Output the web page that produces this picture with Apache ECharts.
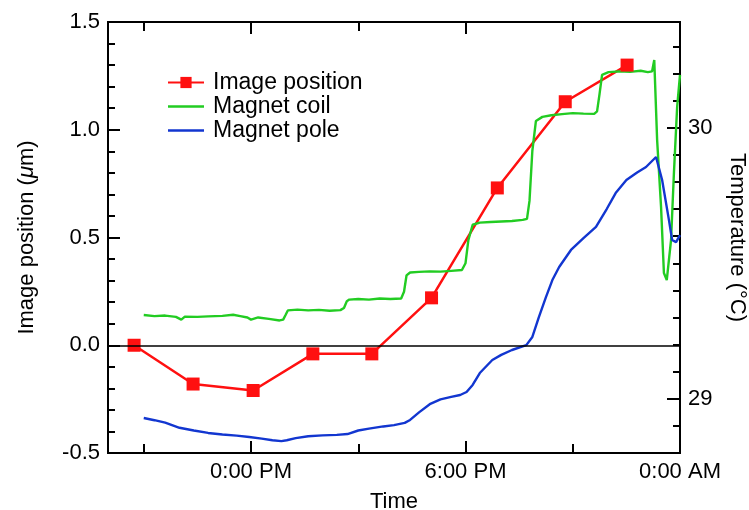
<!DOCTYPE html>
<html>
<head>
<meta charset="utf-8">
<script src="https://cdn.jsdelivr.net/npm/echarts@6/dist/echarts.min.js"></script>
<style>
  html, body { margin: 0; padding: 0; background: #fff; }
  #chart { width: 749px; height: 510px; }
</style>
</head>
<body>
<div id="chart"></div>
<script>
// hours relative to noon
const imageHours = [-3.27, -1.62, 0.06, 1.73, 3.38, 5.05, 6.89, 8.79, 10.52]
const imagePos = [0.0, -0.18, -0.21, -0.04, -0.04, 0.22, 0.73, 1.13, 1.30]

const coilHours = [-3.0, -2.7, -2.4, -2.1, -1.95, -1.85, -1.5, -1.2, -0.8, -0.5, -0.3, -0.1, 0.0, 0.2, 0.5, 0.8, 0.9, 0.97, 1.03, 1.3, 1.6, 1.9, 2.2, 2.5, 2.6, 2.68, 2.75, 3.0, 3.3, 3.6, 3.9, 4.2, 4.28, 4.35, 4.45, 4.7, 5.0, 5.3, 5.6, 5.9, 6.0, 6.08, 6.2, 6.4, 6.7, 7.0, 7.3, 7.6, 7.72, 7.79, 7.87, 7.97, 8.15, 8.4, 8.7, 9.0, 9.3, 9.6, 9.68, 9.75, 9.82, 10.0, 10.3, 10.6, 10.9, 11.1, 11.22, 11.28, 11.31, 11.36, 11.47, 11.55, 11.63, 11.68, 11.75, 11.83, 11.92, 12.0]
const coilTemp = [29.309, 29.305, 29.307, 29.302, 29.292, 29.303, 29.302, 29.304, 29.306, 29.310, 29.305, 29.300, 29.292, 29.300, 29.295, 29.289, 29.292, 29.310, 29.326, 29.329, 29.326, 29.328, 29.325, 29.327, 29.335, 29.360, 29.366, 29.368, 29.366, 29.370, 29.368, 29.370, 29.395, 29.455, 29.466, 29.468, 29.470, 29.469, 29.472, 29.475, 29.500, 29.585, 29.642, 29.650, 29.652, 29.654, 29.656, 29.660, 29.664, 29.730, 29.915, 30.025, 30.040, 30.046, 30.050, 30.054, 30.052, 30.051, 30.060, 30.125, 30.195, 30.205, 30.208, 30.206, 30.210, 30.205, 30.208, 30.250, 30.245, 29.955, 29.708, 29.464, 29.438, 29.445, 29.586, 29.833, 30.076, 30.195]

const poleHours = [-3.0, -2.7, -2.4, -2.0, -1.6, -1.2, -0.8, -0.4, -0.05, 0.3, 0.6, 0.85, 1.0, 1.25, 1.6, 2.0, 2.4, 2.7, 3.0, 3.3, 3.7, 4.0, 4.3, 4.45, 4.7, 5.0, 5.3, 5.6, 5.85, 6.03, 6.2, 6.4, 6.75, 7.0, 7.3, 7.7, 7.87, 8.05, 8.25, 8.43, 8.62, 8.95, 9.3, 9.65, 9.95, 10.2, 10.5, 10.8, 11.05, 11.33, 11.5, 11.69, 11.78, 11.89, 12.0]
const poleTemp = [28.929, 28.921, 28.912, 28.893, 28.883, 28.874, 28.868, 28.864, 28.859, 28.853, 28.847, 28.844, 28.847, 28.855, 28.862, 28.865, 28.867, 28.870, 28.883, 28.890, 28.898, 28.903, 28.911, 28.922, 28.950, 28.980, 28.998, 29.007, 29.014, 29.025, 29.051, 29.095, 29.143, 29.162, 29.180, 29.198, 29.228, 29.300, 29.375, 29.438, 29.486, 29.549, 29.593, 29.634, 29.700, 29.759, 29.807, 29.835, 29.855, 29.892, 29.807, 29.660, 29.586, 29.578, 29.604]

const timeMajorTicks = [0, 6, 12]
const timeMajorLabels = ['0:00 PM', '6:00 PM', '0:00 AM']
const timeMinorTicks = [-3, 3, 9]
const tempMajorTicks = [29, 30]
const tempMinorTicks = [28.9, 29.1, 29.2, 29.3, 29.4, 29.5, 29.6, 29.7, 29.8, 29.9, 30.1, 30.2, 30.3]

const zip = (a, b) => a.map((v, i) => [v, b[i]])

let myChart = echarts.init(document.getElementById('chart'))
const font = 'Liberation Sans, Arial, Helvetica, sans-serif'
const black = '#000'
const lineIcon = 'path://M0,0 L36,0 L36,2.4 L0,2.4 Z'

function timeAxis(pos, ticks, len, labels) {
  return {
    type: 'value', position: pos, min: -4, max: 12,
    axisLine: { show: true, onZero: false, lineStyle: { color: black, width: 2 } },
    axisTick: { show: true, inside: true, length: len, customValues: ticks, lineStyle: { color: black, width: 2 } },
    axisLabel: labels ? {
      show: true, customValues: ticks, margin: 8, color: black, fontSize: 22, fontFamily: font,
      formatter: v => timeMajorLabels[timeMajorTicks.indexOf(Math.round(v))]
    } : { show: false },
    splitLine: { show: false }
  }
}

let option = {
  animation: false,
  backgroundColor: '#fff',
  grid: { left: 108, right: 69, top: 22, bottom: 57, containLabel: false, outerBoundsMode: 'none' },
  legend: {
    orient: 'vertical', left: 162, top: 66,
    itemWidth: 36, itemHeight: 14, itemGap: 1,
    data: [
      { name: 'Image position' },
      { name: 'Magnet coil', icon: lineIcon },
      { name: 'Magnet pole', icon: lineIcon }
    ],
    textStyle: { color: black, fontSize: 23, fontFamily: font, padding: [0, 0, 0, 4] }
  },
  xAxis: [
    Object.assign(timeAxis('bottom', timeMajorTicks, 12, true), {
      name: 'Time', nameLocation: 'middle', nameGap: 38,
      nameTextStyle: { color: black, fontSize: 22, fontFamily: font }
    }),
    timeAxis('bottom', timeMinorTicks, 9, false),
    timeAxis('top', timeMajorTicks, 12, false),
    timeAxis('top', timeMinorTicks, 9, false)
  ],
  yAxis: [
    {
      type: 'value', position: 'left', min: -0.5, max: 1.5, interval: 0.5,
      name: '{a|Image position (}{b|μ}{a|m)}', nameLocation: 'middle', nameGap: 70, nameRotate: 90,
      nameTextStyle: {
        rich: {
          a: { color: black, fontSize: 22, fontFamily: font },
          b: { color: black, fontSize: 22, fontFamily: font, fontStyle: 'italic' }
        }
      },
      axisLine: { show: true, onZero: false, lineStyle: { color: black, width: 2 } },
      axisTick: { show: true, inside: true, length: 12, lineStyle: { color: black, width: 2 } },
      minorTick: { show: true, splitNumber: 5, length: 7, lineStyle: { color: black, width: 2 } },
      axisLabel: { color: black, fontSize: 22, fontFamily: font, margin: 8, formatter: v => v.toFixed(1) },
      splitLine: { show: false }
    },
    {
      type: 'value', position: 'right', min: 28.8, max: 30.39,
      name: 'Temperature (°C)', nameLocation: 'middle', nameGap: 46, nameRotate: -90,
      nameTextStyle: { color: black, fontSize: 22, fontFamily: font },
      axisLine: { show: true, onZero: false, lineStyle: { color: black, width: 2 } },
      axisTick: { show: true, inside: true, length: 13, customValues: tempMajorTicks, lineStyle: { color: black, width: 2 } },
      axisLabel: { color: black, fontSize: 22, fontFamily: font, margin: 8, customValues: tempMajorTicks },
      splitLine: { show: false }
    },
    {
      type: 'value', position: 'right', offset: 0, min: 28.8, max: 30.39,
      axisLine: { show: false, onZero: false },
      axisTick: { show: true, inside: true, length: 7, customValues: tempMinorTicks, lineStyle: { color: black, width: 2 } },
      axisLabel: { show: false },
      splitLine: { show: false }
    }
  ],
  series: [
    {
      name: 'Image position', type: 'line', xAxisIndex: 0, yAxisIndex: 0,
      data: zip(imageHours, imagePos),
      symbol: 'rect', symbolSize: 13,
      lineStyle: { color: '#ff1010', width: 2.5 },
      itemStyle: { color: '#ff1010' },
      markLine: {
        silent: true, symbol: 'none', label: { show: false },
        lineStyle: { color: black, width: 1.5, type: 'solid' },
        data: [{ yAxis: 0 }]
      }
    },
    {
      name: 'Magnet coil', type: 'line', xAxisIndex: 0, yAxisIndex: 1,
      data: zip(coilHours, coilTemp), showSymbol: false, symbol: 'none',
      lineStyle: { color: '#22cc22', width: 2.4 }, itemStyle: { color: '#22cc22' }
    },
    {
      name: 'Magnet pole', type: 'line', xAxisIndex: 0, yAxisIndex: 1,
      data: zip(poleHours, poleTemp), showSymbol: false, symbol: 'none',
      lineStyle: { color: '#1236d0', width: 2.4 }, itemStyle: { color: '#1236d0' }
    }
  ]
}
myChart.setOption(option)
</script>
</body>
</html>
